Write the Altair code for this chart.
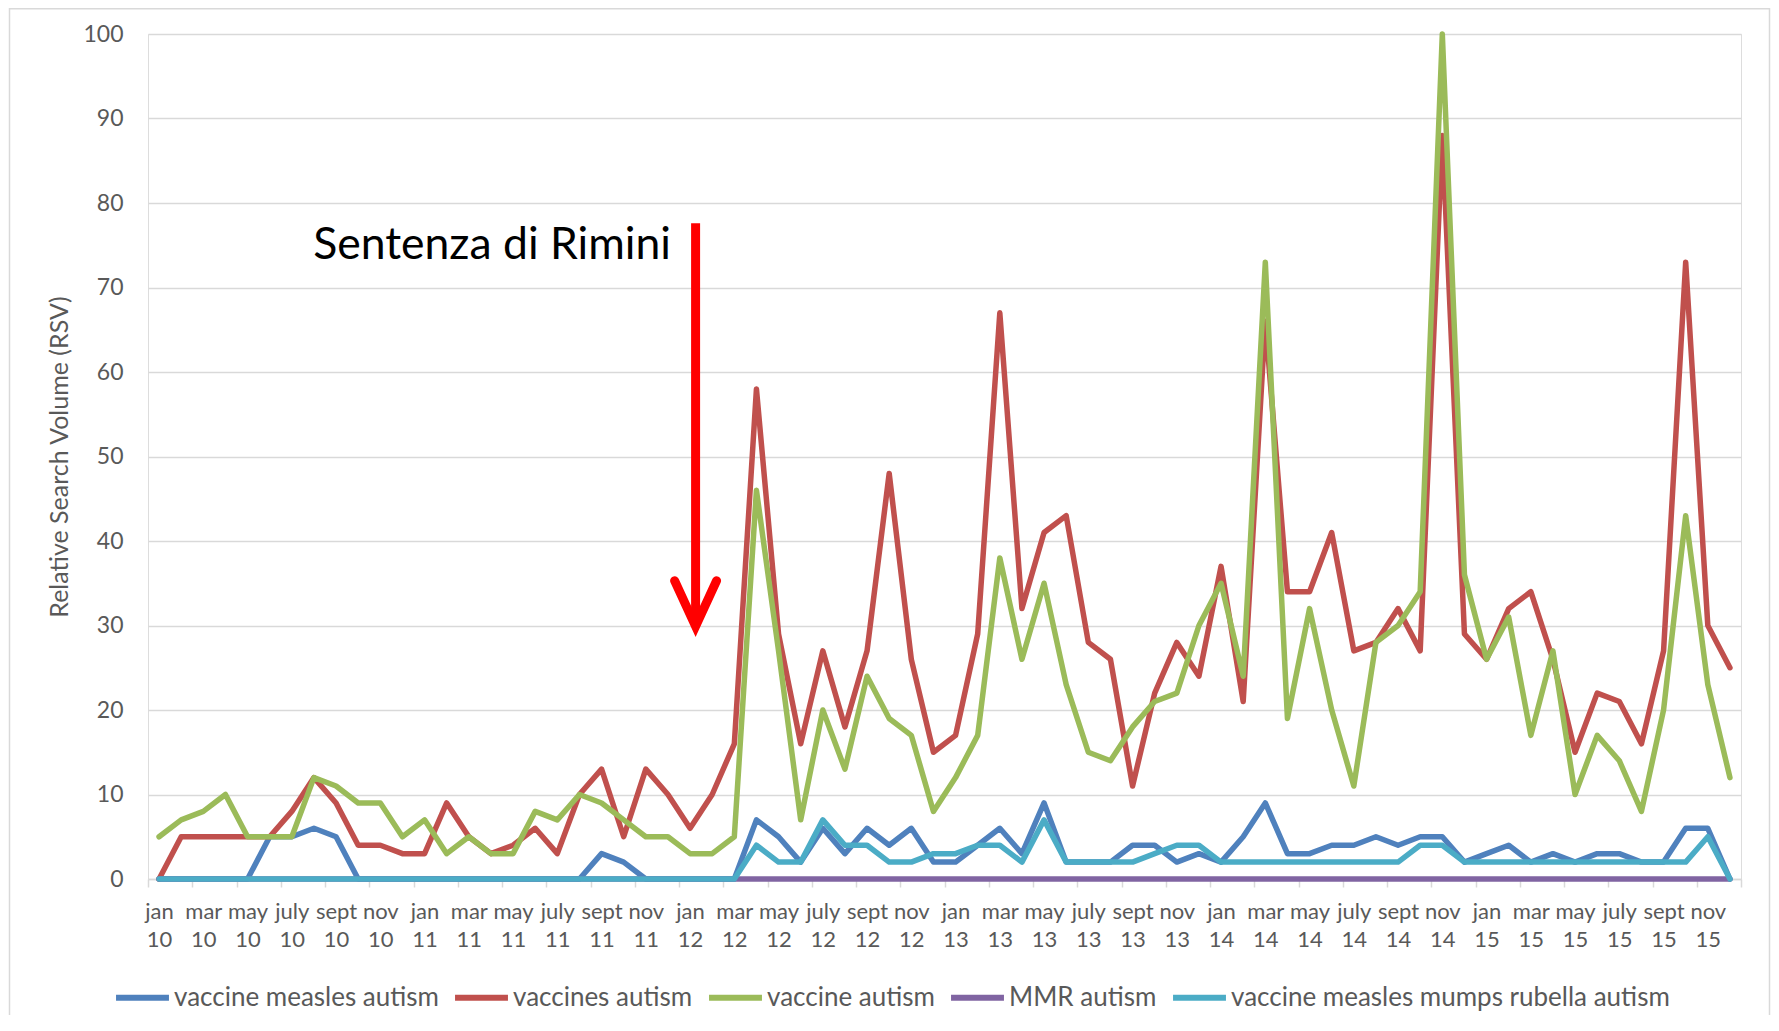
import json
import altair as alt
import pandas as pd

# ---------------- data ----------------
years = ["10", "11", "12", "13", "14", "15"]
month_names = ["jan", "feb", "mar", "apr", "may", "jun",
               "july", "aug", "sept", "oct", "nov", "dec"]
months = [f"{m} {y}" for y in years for m in month_names]
tick_labels = months[::2]  # jan, mar, may, july, sept, nov of each year

series_names = ["vaccine measles autism", "vaccines autism", "vaccine autism",
                "MMR autism", "vaccine measles mumps rubella autism"]
series_colors = ["#4F81BD", "#C0504D", "#9BBB59", "#8064A2", "#4BACC6"]

vaccine_measles_autism = [
    0, 0, 0, 0, 0, 5, 5, 6, 5, 0, 0, 0,
    0, 0, 0, 0, 0, 0, 0, 0, 3, 2, 0, 0,
    0, 0, 0, 7, 5, 2, 6, 3, 6, 4, 6, 2,
    2, 4, 6, 3, 9, 2, 2, 2, 4, 4, 2, 3,
    2, 5, 9, 3, 3, 4, 4, 5, 4, 5, 5, 2,
    3, 4, 2, 3, 2, 3, 3, 2, 2, 6, 6, 0]
vaccines_autism = [
    0, 5, 5, 5, 5, 5, 8, 12, 9, 4, 4, 3,
    3, 9, 5, 3, 4, 6, 3, 10, 13, 5, 13, 10,
    6, 10, 16, 58, 29, 16, 27, 18, 27, 48, 26, 15,
    17, 29, 67, 32, 41, 43, 28, 26, 11, 22, 28, 24,
    37, 21, 66, 34, 34, 41, 27, 28, 32, 27, 88, 29,
    26, 32, 34, 26, 15, 22, 21, 16, 27, 73, 30, 25]
vaccine_autism = [
    5, 7, 8, 10, 5, 5, 5, 12, 11, 9, 9, 5,
    7, 3, 5, 3, 3, 8, 7, 10, 9, 7, 5, 5,
    3, 3, 5, 46, 27, 7, 20, 13, 24, 19, 17, 8,
    12, 17, 38, 26, 35, 23, 15, 14, 18, 21, 22, 30,
    35, 24, 73, 19, 32, 20, 11, 28, 30, 34, 100, 36,
    26, 31, 17, 27, 10, 17, 14, 8, 20, 43, 23, 12]
mmr_autism = [0] * 72
vaccine_mmr_autism = [
    0, 0, 0, 0, 0, 0, 0, 0, 0, 0, 0, 0,
    0, 0, 0, 0, 0, 0, 0, 0, 0, 0, 0, 0,
    0, 0, 0, 4, 2, 2, 7, 4, 4, 2, 2, 3,
    3, 4, 4, 2, 7, 2, 2, 2, 2, 3, 4, 4,
    2, 2, 2, 2, 2, 2, 2, 2, 2, 4, 4, 2,
    2, 2, 2, 2, 2, 2, 2, 2, 2, 2, 5, 0]

all_series = [vaccine_measles_autism, vaccines_autism, vaccine_autism,
              mmr_autism, vaccine_mmr_autism]

annotation_text = "Sentenza di Rimini"

# ---------------- build tables ----------------
rows = []
for name, vals in zip(series_names, all_series):
    for i, v in enumerate(vals):
        rows.append({"idx": i, "month": months[i], "value": v, "series": name})
df = pd.DataFrame(rows)

W, H = 1593, 845
FONT = "Lato"
GRAY = "#595959"
GRID = "#d9d9d9"

xscale = alt.Scale(domain=[-0.5, 71.5], nice=False, zero=False)
yscale = alt.Scale(domain=[0, 100], nice=False)

labels_js = json.dumps(tick_labels)
label_expr = (f"(datum.value + 0.5) % 2 == 0 && datum.value < 71 ? "
              f"split({labels_js}[(datum.value + 0.5) / 2], ' ') : ''")

x_axis = alt.Axis(
    values=[i - 0.5 for i in range(73)],
    labelExpr=label_expr,
    labelOffset=W / 72 / 2,
    ticks=True, tickSize=8, tickColor=GRID, tickWidth=1.5,
    domain=True, domainColor=GRID, domainWidth=1.5,
    grid=False, labelOverlap=False, labelBound=False, labelFlush=False,
    labelFont=FONT, labelFontSize=22, labelColor=GRAY,
    labelLineHeight=28, labelPadding=14,
    labelAlign="center", labelBaseline="top", title=None)

y_axis = alt.Axis(
    values=list(range(0, 101, 10)),
    grid=True, gridColor=GRID, gridWidth=1.5,
    domain=False, ticks=False, labelPadding=25,
    labelFont=FONT, labelFontSize=23, labelColor=GRAY,
    title="Relative Search Volume (RSV)",
    titleFont=FONT, titleFontSize=25, titleFontWeight="normal", titleColor=GRAY,
    titleX=-89, titleY=H / 2, titleAngle=270, titleAlign="center",
    titleBaseline="middle")

lines = alt.Chart(df).mark_line(
    strokeWidth=5.5, strokeJoin="round", strokeCap="round"
).encode(
    x=alt.X("idx:Q", scale=xscale, axis=x_axis),
    y=alt.Y("value:Q", scale=yscale, axis=y_axis),
    color=alt.Color(
        "series:N",
        scale=alt.Scale(domain=series_names, range=series_colors),
        legend=alt.Legend(
            orient="none", direction="horizontal", columns=5,
            legendX=-35, legendY=934, title=None,
            symbolType="stroke", symbolSize=2800, symbolStrokeWidth=6,
            labelFont=FONT, labelFontSize=26, labelColor=GRAY,
            labelOffset=2, columnPadding=4, padding=0,
            labelLimit=600)),
)

# annotation: red arrow and text (data coordinates)
shaft_df = pd.DataFrame({"x": [24.25], "y": [77.6], "y2": [30.6]})
shaft = alt.Chart(shaft_df).mark_rule(
    color="#FF0000", strokeWidth=9, strokeCap="butt"
).encode(x=alt.X("x:Q", scale=xscale), y=alt.Y("y:Q", scale=yscale), y2="y2:Q")

head_df = pd.DataFrame({"x": [23.3, 24.25, 25.2], "y": [35.3, 29.9, 35.3], "o": [0, 1, 2]})
head = alt.Chart(head_df).mark_line(
    color="#FF0000", strokeWidth=9, strokeCap="round", strokeJoin="miter"
).encode(x=alt.X("x:Q", scale=xscale), y=alt.Y("y:Q", scale=yscale), order="o:O")

text_df = pd.DataFrame({"x": [23.14], "y": [74.9], "t": [annotation_text]})
text = alt.Chart(text_df).mark_text(
    align="right", baseline="middle", font=FONT, fontSize=44.5, color="#000000"
).encode(x=alt.X("x:Q", scale=xscale), y=alt.Y("y:Q", scale=yscale), text="t:N")

frame = alt.Chart(pd.DataFrame({"a": [0]})).mark_rect(
    fill=None, stroke=GRID, strokeWidth=1.5
).encode(x=alt.value(-138.5), x2=alt.value(1621.5),
         y=alt.value(-25.25), y2=alt.value(1100))

chart = alt.layer(frame, lines, shaft, head, text).properties(
    width=W, height=H,
    autosize=alt.AutoSizeParams(type="none"),
    padding={"left": 140, "top": 26, "right": 30, "bottom": 136},
).configure_view(stroke=None).configure(background="white")

chart.save("out.html", embed_options={"renderer": "svg", "actions": False})
